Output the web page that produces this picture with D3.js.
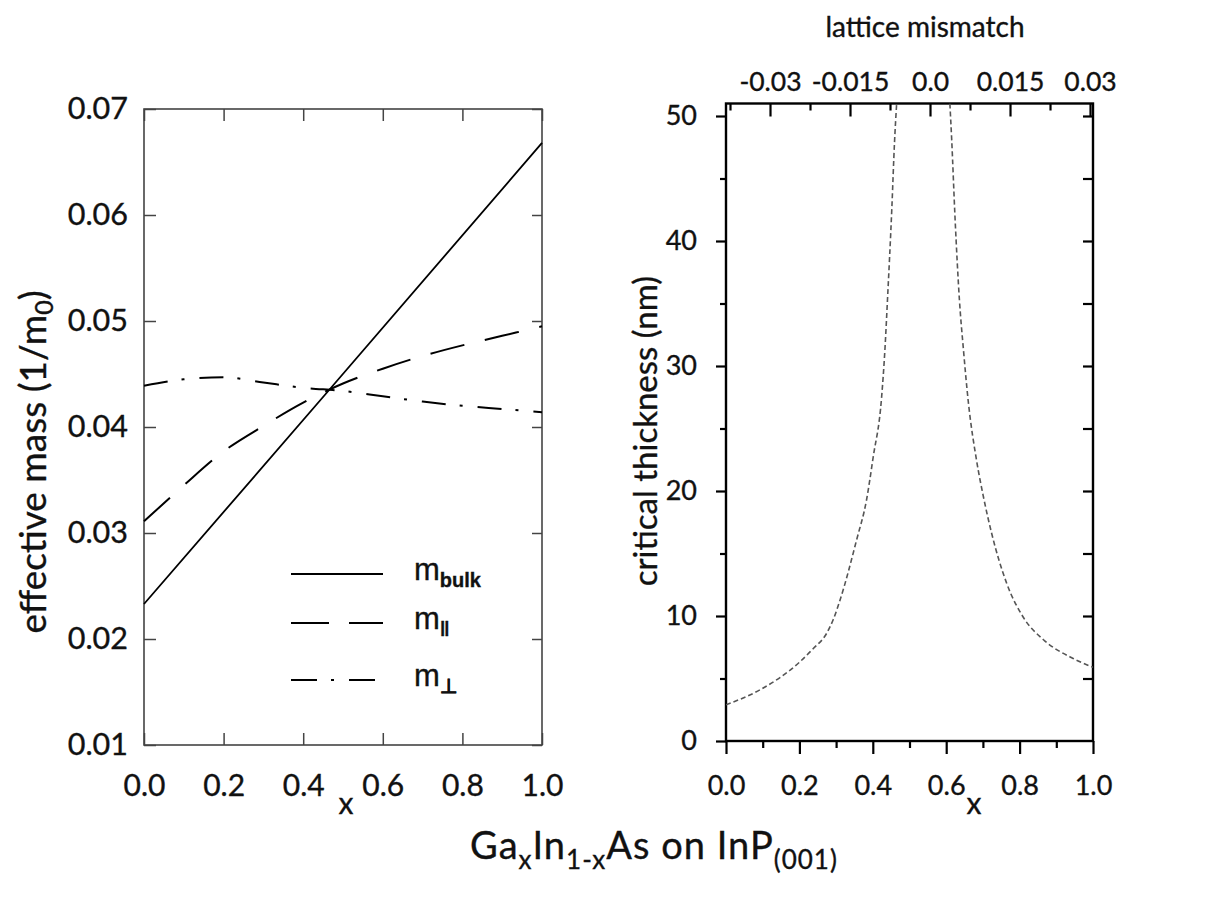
<!DOCTYPE html>
<html>
<head>
<meta charset="utf-8">
<script src="https://cdn.jsdelivr.net/npm/d3@7"></script>
<style>
  body { margin: 0; background: #fff; }
  text { font-family: Lato, "Open Sans", sans-serif; fill: #111; stroke: #111; stroke-width: 0.35px; }
</style>
</head>
<body>
<script>
// effective mass vs x (left panel)
const xMass = [0, 0.1, 0.2, 0.3, 0.4, 0.5, 0.6, 0.7, 0.8, 0.9, 1.0];
const mPar = [0.0311, 0.0345, 0.0377, 0.0401, 0.0423, 0.0441, 0.0455, 0.0467, 0.0477, 0.0486, 0.0495];
const mPerp = [0.0439, 0.0445, 0.0447, 0.0442, 0.0437, 0.0434, 0.0429, 0.0424, 0.0420, 0.0417, 0.0414];
const xBulk = [0, 0.47, 1.0];
const mBulk = [0.0233, 0.0437, 0.0668];

// critical thickness vs x (right panel), two branches
const xCritL = [0, 0.093, 0.2, 0.238, 0.274, 0.292, 0.311, 0.356, 0.383, 0.401, 0.424, 0.433, 0.44, 0.452, 0.459, 0.465];
const hCritL = [2.9, 4.1, 6.3, 7.4, 8.6, 9.7, 11.3, 16.1, 19.3, 22.7, 27.5, 31.3, 35.3, 42.7, 47.8, 51];
const xCritR = [0.61, 0.615, 0.624, 0.636, 0.647, 0.66, 0.683, 0.701, 0.724, 0.765, 0.81, 0.865, 0.946, 1.0];
const hCritR = [51, 48.1, 41.9, 35.3, 31.3, 27.2, 22.4, 19.6, 16.6, 12.6, 9.9, 8.1, 6.6, 5.9];

// ticks
const xTicks = [0, 0.2, 0.4, 0.6, 0.8, 1.0];
const xMinor = [0.1, 0.3, 0.5, 0.7, 0.9];
const massTicks = [0.01, 0.02, 0.03, 0.04, 0.05, 0.06, 0.07];
const hTicks = [0, 10, 20, 30, 40, 50];
const hMinor = [5, 15, 25, 35, 45];
const mmTicks = [-0.03, -0.015, 0, 0.015, 0.03];
const mmLabels = ['-0.03', '-0.015', '0.0', '0.015', '0.03'];
const mmMinor = [-0.0375, -0.0225, -0.0075, 0.0075, 0.0225];

const svg = d3.select('body').append('svg').attr('width', 1205).attr('height', 909);

function styleAxis(g, color, width, size) {
    g.select('.domain').remove();
    g.selectAll('.tick line').attr('stroke', color).attr('stroke-width', width);
    g.selectAll('.tick text').style('font-family', 'Lato').style('font-size', size + 'px').attr('fill', '#111');
}

// ---------- left panel ----------
const xL = d3.scaleLinear().domain([0, 1]).range([144, 542]);
const yL = d3.scaleLinear().domain([0.01, 0.07]).range([745, 109]);
const gray = '#444';

svg.append('g').attr('transform', 'translate(0,745)')
    .call(d3.axisBottom(xL).tickValues(xTicks).tickFormat(d3.format('.1f')).tickSizeInner(-12).tickSizeOuter(0).tickPadding(30))
    .call(g => styleAxis(g, gray, 1.5, 30));
svg.append('g').attr('transform', 'translate(0,109)')
    .call(d3.axisTop(xL).tickValues(xTicks).tickFormat('').tickSizeInner(-12).tickSizeOuter(0))
    .call(g => styleAxis(g, gray, 1.5, 30));
svg.append('g').attr('transform', 'translate(144,0)')
    .call(d3.axisLeft(yL).tickValues(massTicks).tickFormat(d3.format('.2f')).tickSizeInner(-12).tickSizeOuter(0).tickPadding(16))
    .call(g => styleAxis(g, gray, 1.5, 30.5));
svg.append('g').attr('transform', 'translate(542,0)')
    .call(d3.axisRight(yL).tickValues(massTicks).tickFormat('').tickSizeInner(-10).tickSizeOuter(0))
    .call(g => styleAxis(g, gray, 1.5, 30));

svg.append('rect').attr('x', 144).attr('y', 109).attr('width', 398).attr('height', 636)
    .attr('fill', 'none').attr('stroke', gray).attr('stroke-width', 1.6);

const lineL = d3.line().x(d => xL(d[0])).y(d => yL(d[1])).curve(d3.curveMonotoneX);
svg.append('path').datum(d3.zip(xBulk, mBulk)).attr('d', lineL)
    .attr('fill', 'none').attr('stroke', '#000').attr('stroke-width', 1.8);
svg.append('path').datum(d3.zip(xMass, mPar)).attr('d', lineL)
    .attr('fill', 'none').attr('stroke', '#000').attr('stroke-width', 2).attr('stroke-dasharray', '35,21');
svg.append('path').datum(d3.zip(xMass, mPerp)).attr('d', lineL)
    .attr('fill', 'none').attr('stroke', '#000').attr('stroke-width', 2).attr('stroke-dasharray', '24,14,3,15');

// legend
const legend = [
    { y: 574, dash: null, sub: 'bulk' },
    { y: 623, dash: '38,20', sub: '‖' },
    { y: 680, dash: '26,14,3,15', sub: '⊥' }
];
legend.forEach(l => {
    svg.append('line').attr('x1', 291).attr('x2', 383).attr('y1', l.y).attr('y2', l.y)
        .attr('stroke', '#000').attr('stroke-width', 2).attr('stroke-dasharray', l.dash);
    const t = svg.append('text').attr('x', 414).attr('y', l.y + 6)
        .style('font-family', '"Liberation Sans", Arial, sans-serif').style('font-size', '31px');
    t.append('tspan').text('m');
    t.append('tspan').attr('dy', 7).style('font-size', '20px').style('font-weight', 'bold').text(l.sub);
});

svg.append('text').attr('transform', 'translate(46,462) rotate(-90)').attr('text-anchor', 'middle')
    .style('font-size', '37px')
    .call(t => {
        t.append('tspan').text('effective mass (1/m');
        t.append('tspan').attr('dy', 7).style('font-size', '25px').text('0');
        t.append('tspan').attr('dy', -7).text(')');
    });
svg.append('text').attr('x', 346).attr('y', 814).attr('text-anchor', 'middle').style('font-size', '30px').text('x');

// ---------- right panel ----------
const xR = d3.scaleLinear().domain([0, 1]).range([726, 1093]);
const yR = d3.scaleLinear().domain([0, 51]).range([741, 103.5]);
const xMM = d3.scaleLinear().domain([-0.03825, 0.03056]).range([726, 1093]);

svg.append('g').attr('transform', 'translate(0,741)')
    .call(d3.axisBottom(xR).tickValues(xTicks).tickFormat(d3.format('.1f')).tickSizeInner(13).tickSizeOuter(0).tickPadding(22))
    .call(g => styleAxis(g, '#000', 2.2, 27));
svg.append('g').attr('transform', 'translate(0,741)')
    .call(d3.axisBottom(xR).tickValues(xMinor).tickFormat('').tickSizeInner(7).tickSizeOuter(0))
    .call(g => styleAxis(g, '#000', 2.2, 27));
svg.append('g').attr('transform', 'translate(0,103.5)')
    .call(d3.axisTop(xMM).tickValues(mmTicks).tickFormat((d, i) => mmLabels[i]).tickSizeInner(-13).tickSizeOuter(0).tickPadding(13))
    .call(g => styleAxis(g, '#000', 2.2, 26.5));
svg.append('g').attr('transform', 'translate(0,103.5)')
    .call(d3.axisTop(xMM).tickValues(mmMinor).tickFormat('').tickSizeInner(-7).tickSizeOuter(0))
    .call(g => styleAxis(g, '#000', 2.2, 26));
svg.append('g').attr('transform', 'translate(726,0)')
    .call(d3.axisLeft(yR).tickValues(hTicks).tickSizeInner(10).tickSizeOuter(0).tickPadding(19))
    .call(g => styleAxis(g, '#000', 2.2, 27));
svg.append('g').attr('transform', 'translate(726,0)')
    .call(d3.axisLeft(yR).tickValues(hMinor).tickFormat('').tickSizeInner(6).tickSizeOuter(0))
    .call(g => styleAxis(g, '#000', 2.2, 27));
svg.append('g').attr('transform', 'translate(1093,0)')
    .call(d3.axisRight(yR).tickValues(hMinor.concat(hTicks.slice(1))).tickFormat('').tickSizeInner(-10).tickSizeOuter(0))
    .call(g => styleAxis(g, '#000', 2.2, 27));

// bottom labels of the right panel sit lower than the major tick length
svg.selectAll('g').filter(function () { return this.getAttribute('transform') === 'translate(0,741)'; })
    .selectAll('.tick text').attr('y', 35);

svg.append('rect').attr('x', 726).attr('y', 103.5).attr('width', 367).attr('height', 637.5)
    .attr('fill', 'none').attr('stroke', '#000').attr('stroke-width', 2.4);

svg.append('clipPath').attr('id', 'clipR').append('rect')
    .attr('x', 726).attr('y', 103.5).attr('width', 367).attr('height', 637.5);
const lineR = d3.line().x(d => xR(d[0])).y(d => yR(d[1])).curve(d3.curveMonotoneX);
[d3.zip(xCritL, hCritL), d3.zip(xCritR, hCritR)].forEach(pts => {
    svg.append('path').datum(pts).attr('d', lineR).attr('clip-path', 'url(#clipR)')
        .attr('fill', 'none').attr('stroke', '#555').attr('stroke-width', 1.6).attr('stroke-dasharray', '5,3');
});

svg.append('text').attr('transform', 'translate(657,431) rotate(-90)').attr('text-anchor', 'middle')
    .style('font-size', '33px').text('critical thickness (nm)');
svg.append('text').attr('x', 925).attr('y', 37).attr('text-anchor', 'middle').style('font-size', '28px').text('lattice mismatch');
svg.append('text').attr('x', 974).attr('y', 814).attr('text-anchor', 'middle').style('font-size', '30px').text('x');

// ---------- bottom title ----------
svg.append('text').attr('x', 470).attr('y', 859).style('font-size', '38px').style('letter-spacing', '1px')
    .call(t => {
        t.append('tspan').text('Ga');
        t.append('tspan').attr('dy', 10).style('font-size', '26px').text('x');
        t.append('tspan').attr('dy', -10).text('In');
        t.append('tspan').attr('dy', 10).style('font-size', '26px').text('1-x');
        t.append('tspan').attr('dy', -10).text('As on InP');
        t.append('tspan').attr('dy', 10).style('font-size', '26px').text('(001)');
    });
</script>
</body>
</html>
